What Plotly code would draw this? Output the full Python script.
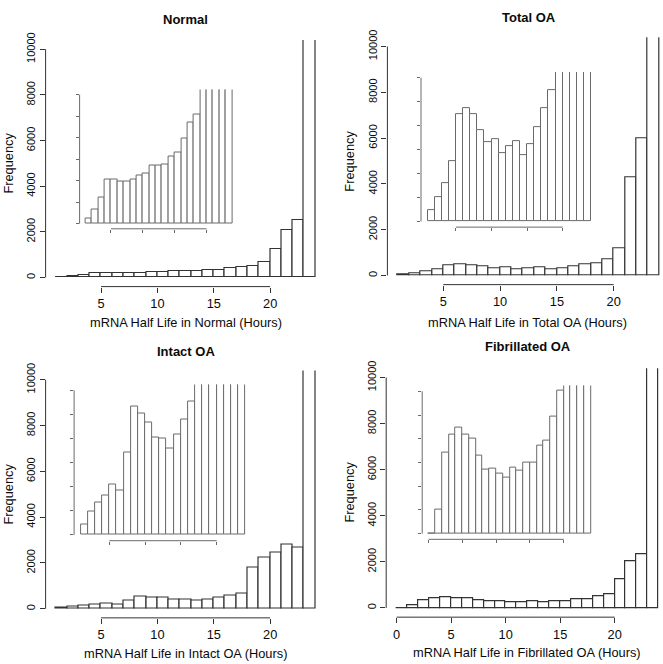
import plotly.graph_objects as go

# ---------------- data ----------------
bin_start_23 = list(range(1, 24))   # 1-hour bins, 1..24 h
bin_start_24 = list(range(0, 24))   # 1-hour bins, 0..24 h

normal = [23, 64, 122, 207, 205, 196, 196, 207, 224, 233, 270, 270, 273, 311, 329,
          394, 472, 510, 693, 1227, 2092, 2525, 13500]
total_oa = [47, 102, 160, 253, 448, 473, 448, 380, 330, 344, 286, 314, 336, 279, 323,
            396, 473, 550, 705, 1180, 4300, 5970, 13500]
intact_oa = [44, 96, 135, 163, 208, 183, 343, 531, 503, 467, 406, 400, 359, 418, 478,
             553, 648, 1800, 2230, 2460, 2800, 2690, 13500]
fibrillated_oa = [2, 101, 342, 417, 449, 419, 399, 329, 272, 274, 254, 238, 278, 267, 300,
                  301, 369, 394, 492, 603, 1257, 2043, 2329, 13500]

titles = ["Normal", "Total OA", "Intact OA", "Fibrillated OA"]
xlabels = ["mRNA Half Life in Normal (Hours)", "mRNA Half Life in Total OA (Hours)",
           "mRNA Half Life in Intact OA (Hours)", "mRNA Half Life in Fibrillated OA (Hours)"]
main_yticks = [0, 2000, 4000, 6000, 8000, 10000]
inset_yticks = [0, 100, 200, 300, 400, 500, 600]
xticks_a = [5, 10, 15, 20]
xticks_b = [0, 5, 10, 15, 20]

# ---------------- layout geometry (pixels) ----------------
W, H = 663, 664
FONT = "Liberation Sans, Arial, Helvetica, sans-serif"
LC = "#333333"
LC_IN = "#6a6a6a"
TXT = "#0a0a0a"

panels = [
    dict(vals=normal, starts=bin_start_23, xt=xticks_a,
         mx=(45.6, 325.6), mxr=(0.08, 24.92), my=(32.5, 282),
         ix=(79.6, 238), ixr=(0.08, 24.92), iy=(82.5, 223.5),
         title=(185.6, 11.5), xlab=(185.6, 318), ylab=(8.5, 157)),
    dict(vals=total_oa, starts=bin_start_23, xt=xticks_a,
         mx=(387.4, 663), mxr=(0.08, 24.34), my=(29.7, 280),
         ix=(421, 597.6), ixr=(0.08, 24.92), iy=(64.9, 221.8),
         title=(528.5, 9.5), xlab=(527, 318), ylab=(349.5, 155)),
    dict(vals=intact_oa, starts=bin_start_23, xt=xticks_a,
         mx=(45.6, 325.6), mxr=(0.08, 24.92), my=(367, 617.3),
         ix=(74.1, 251.9), ixr=(0.08, 24.92), iy=(381.1, 539.2),
         title=(185.6, 348), xlab=(185.6, 653.5), ylab=(8.5, 492)),
    dict(vals=fibrillated_oa, starts=bin_start_24, xt=xticks_b,
         mx=(386.2, 663), mxr=(-0.96, 24.43), my=(364.7, 616.6),
         ix=(422.2, 597.2), ixr=(-0.96, 24.96), iy=(382.2, 537.8),
         title=(527.7, 343), xlab=(527, 652.5), ylab=(349.5, 490)),
]


def xdom(a, b):
    return [a / W, b / W]


def ydom(top, bottom):
    return [1 - bottom / H, 1 - top / H]


fig = go.Figure()
layout = {}
shapes = []
annotations = []

for p_i, p in enumerate(panels):
    mi = 2 * p_i + 1
    ii = 2 * p_i + 2
    centers = [s + 0.5 for s in p["starts"]]
    specs = [
        (mi, p["mxr"], (-400, 10400), LC, 1.2, main_yticks, 10000, 5),
        (ii, p["ixr"], (-24, 624), LC_IN, 1.0, inset_yticks, 600, 3),
    ]
    for (idx, xr_, yr_, col, lw, ytv, ytop, tl) in specs:
        xa = "x" if idx == 1 else f"x{idx}"
        ya = "y" if idx == 1 else f"y{idx}"
        fig.add_trace(go.Bar(
            x=centers, y=p["vals"], width=[1] * len(centers),
            marker=dict(color="white", line=dict(color=col, width=lw)),
            xaxis=xa, yaxis=ya, showlegend=False, hoverinfo="x+y"))
        is_main = idx == mi
        gx = p["mx"] if is_main else p["ix"]
        gy = p["my"] if is_main else p["iy"]
        layout[f"xaxis{idx}"] = dict(
            domain=xdom(*gx), range=list(xr_), anchor=ya,
            tickmode="array", tickvals=p["xt"], ticktext=[str(v) for v in p["xt"]],
            showticklabels=is_main, ticks="outside", ticklen=tl, tickwidth=1,
            tickcolor=col, showline=False, showgrid=False, zeroline=False,
            tickfont=dict(family=FONT, size=12.8, color=TXT), fixedrange=True)
        layout[f"yaxis{idx}"] = dict(
            domain=ydom(*gy), range=list(yr_), anchor=xa,
            tickmode="array", tickvals=ytv, ticktext=[str(v) for v in ytv],
            showticklabels=is_main, ticks="outside", ticklen=tl, tickwidth=1,
            tickcolor=col, tickangle=-90, showline=False, showgrid=False,
            zeroline=False, tickfont=dict(family=FONT, size=11, color=TXT),
            fixedrange=True)
        # R-style axis lines spanning first to last tick
        shapes.append(dict(type="line", xref=xa, yref=f"{ya} domain",
                           x0=p["xt"][0], x1=p["xt"][-1], y0=0, y1=0,
                           line=dict(color=col, width=1)))
        shapes.append(dict(type="line", xref=f"{xa} domain", yref=ya,
                           x0=0, x1=0, y0=ytv[0], y1=ytop,
                           line=dict(color=col, width=1)))

    tx, ty = p["title"]
    annotations.append(dict(text="<b>" + titles[p_i] + "</b>", x=tx / W, y=1 - ty / H,
                            xref="paper", yref="paper", showarrow=False,
                            xanchor="center", yanchor="middle",
                            font=dict(family=FONT, size=13, color=TXT)))
    lx, ly = p["xlab"]
    annotations.append(dict(text=xlabels[p_i], x=lx / W, y=1 - ly / H,
                            xref="paper", yref="paper", showarrow=False,
                            xanchor="center", yanchor="middle",
                            font=dict(family=FONT, size=12.8, color=TXT)))
    fx, fy = p["ylab"]
    annotations.append(dict(text="Frequency", x=fx / W, y=1 - fy / H,
                            xref="paper", yref="paper", showarrow=False,
                            xanchor="center", yanchor="middle", textangle=-90,
                            font=dict(family=FONT, size=12.8, color=TXT)))

fig.update_layout(
    width=W, height=H, margin=dict(l=0, r=0, t=0, b=0),
    paper_bgcolor="white", plot_bgcolor="white",
    bargap=0, barmode="overlay", showlegend=False,
    shapes=shapes, annotations=annotations, **layout)

fig.write_html(
    "out.html", config={"displayModeBar": False},
    post_script=("document.documentElement.style.margin='0';"
                 "document.body.style.margin='0';document.body.style.padding='0';"
                 "document.body.style.overflow='hidden';"
                 "var d=document.getElementById('{plot_id}');"
                 "d.style.position='absolute';d.style.left='0px';d.style.top='0px';"))
